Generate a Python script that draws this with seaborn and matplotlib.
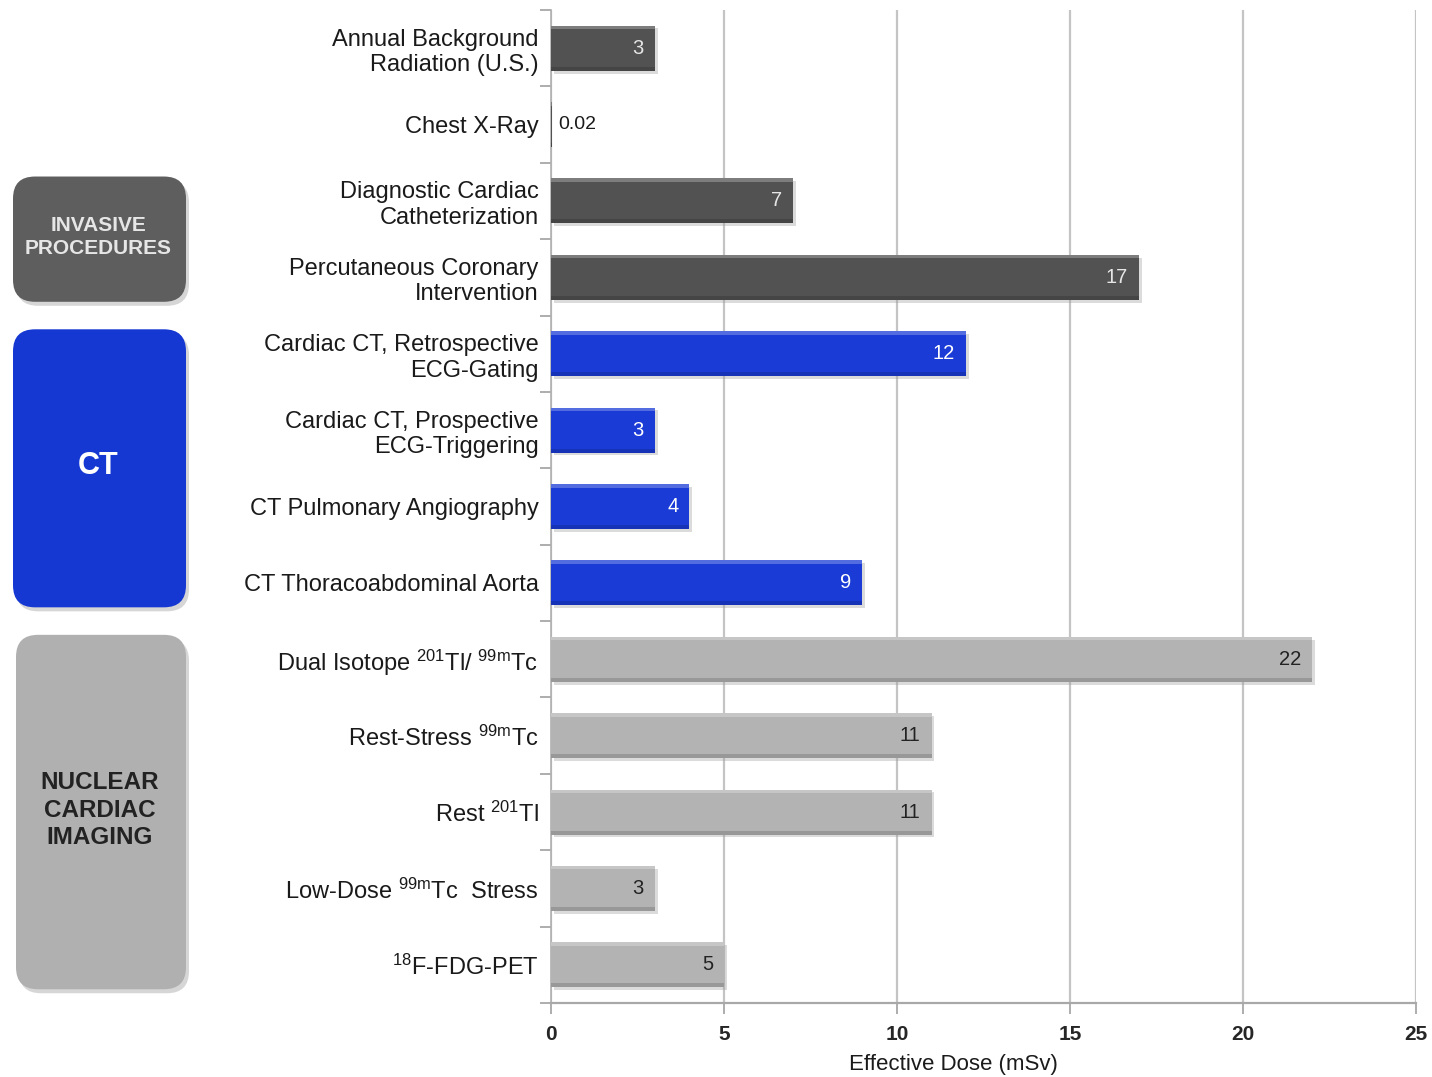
import matplotlib
matplotlib.use('Agg')
import matplotlib.pyplot as plt
import pandas as pd
import seaborn as sns
from matplotlib.patches import FancyBboxPatch, Rectangle
import matplotlib.patheffects as pe

# Data
categories = [
    'Annual Background\nRadiation (U.S.)',
    'Chest X-Ray',
    'Diagnostic Cardiac\nCatheterization',
    'Percutaneous Coronary\nIntervention',
    'Cardiac CT, Retrospective\nECG-Gating',
    'Cardiac CT, Prospective\nECG-Triggering',
    'CT Pulmonary Angiography',
    'CT Thoracoabdominal Aorta',
    r'Dual Isotope $^{201}$Tl/ $^{99m}$Tc',
    r'Rest-Stress $^{99m}$Tc',
    r'Rest $^{201}$Tl',
    r'Low-Dose $^{99m}$Tc  Stress',
    r'$^{18}$F-FDG-PET',
]
doses = [3, 0.02, 7, 17, 12, 3, 4, 9, 22, 11, 11, 3, 5]
groups = ['invasive', 'invasive', 'invasive', 'invasive',
          'ct', 'ct', 'ct', 'ct',
          'nuclear', 'nuclear', 'nuclear', 'nuclear', 'nuclear']
x_ticks = [0, 5, 10, 15, 20, 25]

# group boxes: label, first row, last row
box_labels = ['INVASIVE\nPROCEDURES', 'CT', 'NUCLEAR\nCARDIAC\nIMAGING']
box_rows = [(2, 3), (4, 7), (8, 12)]
box_keys = ['invasive', 'ct', 'nuclear']

palette = {'invasive': '#525252', 'ct': '#1a3bd6', 'nuclear': '#b3b3b3'}
box_colors = {'invasive': '#5e5e5e', 'ct': '#1538d2', 'nuclear': '#b0b0b0'}
text_colors = {'invasive': '#e6e6e6', 'ct': '#ffffff', 'nuclear': '#222222'}
box_text_sizes = {'invasive': 15, 'ct': 22, 'nuclear': 17.5}

df = pd.DataFrame({'category': categories, 'dose': doses, 'group': groups})

sns.set_style('white')
plt.rcParams['font.family'] = ['Liberation Sans', 'DejaVu Sans']
plt.rcParams['mathtext.fontset'] = 'custom'
plt.rcParams['mathtext.rm'] = 'Liberation Sans'
plt.rcParams['mathtext.default'] = 'regular'

fig = plt.figure(figsize=(14.32, 10.77), dpi=100)
ax = fig.add_axes([551 / 1432, 1 - 1003 / 1077, 865 / 1432, 993 / 1077])

sns.barplot(data=df, x='dose', y='category', hue='group', palette=palette,
            dodge=False, width=0.59, saturation=1, legend=False, ax=ax, zorder=3)

ax.set_xlim(0, 25)
ax.set_ylim(len(categories) - 0.5, -0.5)
ax.set_xticks(x_ticks)
ax.set_xticklabels([str(t) for t in x_ticks], fontsize=15, fontweight='bold')
ax.grid(axis='x', color='#c4c4c4', linewidth=1.6, zorder=0)
ax.set_axisbelow(True)

# y ticks between categories
ax.set_yticks(range(len(categories)))
ax.set_yticklabels(categories, fontsize=17, color='#1a1a1a', multialignment='right')
ax.set_yticks([i + 0.5 for i in range(-1, len(categories))], minor=True)
ax.tick_params(axis='y', which='major', length=0, pad=9)
ax.tick_params(axis='y', which='minor', length=8, color='#a0a0a0', width=1.2, left=True)
ax.tick_params(axis='x', length=8, color='#a0a0a0', width=1.2, bottom=True, pad=8)

for side in ['top', 'right']:
    ax.spines[side].set_visible(False)
ax.spines['left'].set_color('#b0b0b0')
ax.spines['left'].set_linewidth(1.2)
ax.spines['bottom'].set_color('#a8a8a8')
ax.spines['bottom'].set_linewidth(1.6)

ax.set_ylabel('')
ax.set_xlabel('Effective Dose (mSv)', fontsize=16, color='#1a1a1a')
ax.xaxis.set_label_coords(0.465, -0.051)

# bevel look and value labels
bars = sorted(ax.patches, key=lambda p: p.get_y())
for bar, val, grp in zip(bars, doses, groups):
    bar.set_edgecolor('none')
    bar.set_path_effects([pe.withSimplePatchShadow(offset=(2, -2), shadow_rgbFace='#999999', alpha=0.35)])
    x0, y0, w, h = bar.get_x(), bar.get_y(), bar.get_width(), bar.get_height()
    ax.add_patch(Rectangle((x0, y0), w, h * 0.08, facecolor='white', alpha=0.25,
                           edgecolor='none', zorder=4))
    ax.add_patch(Rectangle((x0, y0 + h * 0.91), w, h * 0.09, facecolor='black', alpha=0.15,
                           edgecolor='none', zorder=4))
    yc = y0 + h / 2
    if val < 1:
        ax.annotate(f'{val:g}', (val, yc), xytext=(7, 0), textcoords='offset pixels',
                    ha='left', va='center', fontsize=14, color='#1a1a1a', zorder=5)
    else:
        ax.annotate(f'{val:g}', (val, yc), xytext=(-11, 0), textcoords='offset pixels',
                    ha='right', va='center', fontsize=14.5, color=text_colors[grp], zorder=5)

# group boxes on the left, in pixel space
over = fig.add_axes([0, 0, 1, 1], zorder=-1)
over.set_xlim(0, 1432)
over.set_ylim(0, 1077)
over.axis('off')

to_px = lambda r: ax.transData.transform((0, r))[1]
for lab, (r0, r1), key in zip(box_labels, box_rows, box_keys):
    top = to_px(r0 - 0.32)
    bottom = to_px(r1 + 0.32)
    x_left = 13 if key != 'nuclear' else 16
    w = 186 - x_left
    shadow = FancyBboxPatch((x_left + 3, bottom - 4), w, top - bottom,
                            boxstyle='round,pad=0,rounding_size=22',
                            facecolor='#999999', edgecolor='none', alpha=0.4)
    over.add_patch(shadow)
    box = FancyBboxPatch((x_left, bottom), w, top - bottom,
                         boxstyle='round,pad=0,rounding_size=22',
                         facecolor=box_colors[key], edgecolor='none')
    over.add_patch(box)
    over.text(x_left + w / 2 - 1, (top + bottom) / 2 + 2, lab, ha='center', va='center',
              fontsize=box_text_sizes[key], fontweight='bold', color=text_colors[key],
              linespacing=1.25)

fig.savefig('out.png', dpi=100)
